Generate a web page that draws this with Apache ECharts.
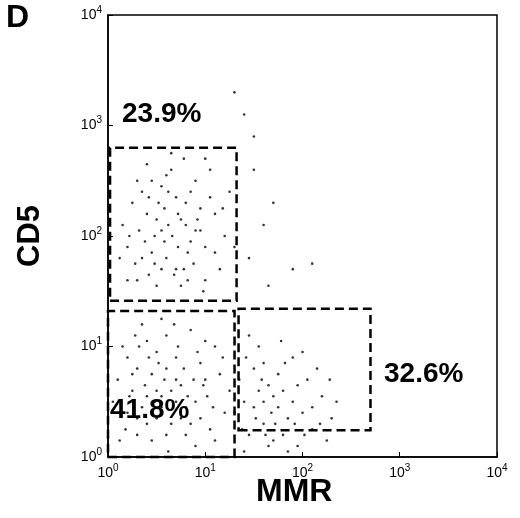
<!DOCTYPE html>
<html>
<head>
<meta charset="utf-8">
<script src="https://cdn.jsdelivr.net/npm/echarts@6/dist/echarts.min.js"></script>
<style>html,body{margin:0;padding:0;background:#fff}#chart{width:520px;height:518px}</style>
</head>
<body>
<div id="chart"></div>
<script>
// dot positions in log10 units
var upperLeft = [[0.62,2.1],[0.45,1.85],[0.8,2.3],[0.3,1.6],[0.95,2.05],[0.55,2.45],[0.7,1.7],[1.1,2.2],[0.4,2.2],[0.85,1.95],[0.2,1.9],[0.65,2.6],[1.0,1.6],[0.5,1.55],[0.75,2.15],[1.2,2.0],[0.35,2.4],[0.9,2.5],[0.6,1.8],[0.15,2.1],[1.05,2.35],[0.48,2.0],[0.72,1.9],[0.88,1.75],[0.28,1.75],[0.58,2.25],[1.15,1.7],[0.42,1.65],[0.78,2.7],[0.66,2.0],[0.95,2.25],[0.52,2.3],[0.32,2.05],[1.25,2.4],[0.82,1.6],[0.6,2.55],[0.38,1.95],[1.0,1.9],[0.7,2.35],[0.25,2.3],[0.9,2.05],[0.55,1.7],[1.1,1.85],[0.45,2.5],[0.68,1.65],[0.8,2.1],[0.2,1.6],[0.62,2.4],[1.05,2.6],[0.35,1.8],[0.98,1.5],[0.5,2.15],[0.75,1.55],[1.3,1.9],[0.4,2.65],[0.85,2.4],[0.58,1.95],[0.12,1.8],[0.92,2.15],[0.3,2.5],[0.72,2.2],[1.18,2.25],[0.48,1.75],[0.65,2.75],[0.82,1.85],[0.55,2.05],[1.0,2.7],[0.22,2.0],[0.78,1.7],[0.42,2.35],
  [1.5,2.6],[1.6,2.1],[1.45,1.8],[1.7,2.3],[1.4,3.1],[1.3,3.3],[1.9,1.7],[2.1,1.75],[1.65,1.55],[1.5,2.9]];
var lowerLeft = [[0.3,0.8],[0.5,0.6],[0.7,0.9],[0.9,0.5],[0.2,0.4],[0.6,1.1],[1.0,0.7],[0.4,0.3],[0.8,0.2],[1.1,1.0],[0.15,1.0],[0.55,0.45],[0.75,0.65],[0.35,1.2],[0.95,0.85],[1.2,0.4],[0.45,0.75],[0.65,0.3],[0.25,0.6],[0.85,1.15],[1.05,0.25],[0.5,0.95],[0.7,0.5],[0.1,0.7],[0.4,0.55],[0.9,0.1],[0.6,0.8],[1.15,0.75],[0.3,0.2],[0.8,0.45],[0.55,1.25],[0.2,0.9],[1.0,1.05],[0.65,0.6],[0.45,0.15],[0.88,0.7],[0.35,0.45],[0.72,1.0],[1.25,0.6],[0.5,0.35],[0.05,0.5],[0.62,0.05],[0.95,0.35],[0.28,1.1],[0.78,0.8],[0.42,0.9],[1.1,0.15],[0.58,0.7],[0.18,0.25],[0.82,0.55],[0.38,0.65],[0.68,1.2],[1.02,0.55],[0.48,0.5],[0.25,0.75],[0.92,0.95],[0.6,0.2],[0.75,0.35],[0.32,1.0],[1.18,0.9],[0.52,0.85],[0.12,0.15],[0.85,0.3],[0.4,1.05],[0.7,0.7],[0.22,0.55],[0.98,0.65],[0.55,0.55],[1.08,0.45],[0.3,0.35]];
var lowerRight = [[1.4,0.5],[1.6,0.3],[1.8,0.6],[2.0,0.4],[1.5,0.8],[1.7,0.15],[1.9,0.9],[2.1,0.25],[1.45,0.2],[1.65,0.65],[2.2,0.55],[1.35,0.7],[1.75,0.45],[1.55,1.0],[1.95,0.1],[2.3,0.35],[1.85,0.35],[1.5,0.45],[2.05,0.7],[1.6,0.85],[1.4,0.05],[1.8,0.2],[2.15,0.8],[1.7,0.55],[1.3,0.4],[1.9,0.5],[2.25,0.15],[1.55,0.6],[1.65,0.1],[2.0,0.95],[1.45,1.1],[1.75,0.75],[1.85,0.05],[2.35,0.5],[1.6,0.5],[1.95,0.65],[1.38,0.25],[2.1,0.45],[1.72,0.3],[1.52,0.35],[1.82,0.85],[2.28,0.7],[1.62,0.2],[1.42,0.9],[2.02,0.2],[1.78,1.05],[1.92,0.3],[1.58,0.7],[2.18,0.3],[1.68,0.4]];
// gates: [xmin, xmax, ymin, ymax]
var gateUpper = [1.05, 21, 26, 630];
var gateLowerLeft = [1, 20, 1, 21];
var gateLowerRight = [22, 500, 1.75, 22];
var gateLabels = ["23.9%", "41.8%", "32.6%"];

var pts = upperLeft.concat(lowerLeft, lowerRight).map(function (p) {
  return [Math.pow(10, p[0]), Math.pow(10, p[1])];
});
function area(g) {
  return [{ coord: [g[0], g[2]] }, { coord: [g[1], g[3]] }];
}
var font = "Liberation Sans";
var tickLabel = {
  color: "#000", fontFamily: font, fontSize: 14, margin: 6,
  formatter: function (v) { return "10{s|" + Math.round(Math.log10(v)) + "}"; },
  rich: { s: { fontSize: 10, verticalAlign: "top", padding: [0, 0, 10, 0], fontFamily: font } }
};
var ax = {
  type: "log", logBase: 10, min: 1, max: 10000,
  axisLine: { lineStyle: { color: "#000", width: 1.5 } },
  axisTick: { inside: true, length: 5, lineStyle: { color: "#000" } },
  minorTick: { show: false },
  splitLine: { show: false },
  axisLabel: tickLabel
};
var chart = echarts.init(document.getElementById("chart"));
chart.setOption({
  animation: false,
  grid: { left: 108, right: 23, top: 15, bottom: 61, show: true, borderColor: "#000", borderWidth: 1.5 },
  xAxis: Object.assign({}, ax),
  yAxis: Object.assign({}, ax),
  graphic: [
    { type: "text", left: 6, top: 2, style: { text: "D", font: "bold 32px " + font, fill: "#000" } },
    { type: "text", left: 256, top: 476, style: { text: "MMR", font: "bold 32px " + font, fill: "#000" } },
    { type: "text", x: 30, y: 236, rotation: Math.PI / 2, style: { text: "CD5", font: "bold 31px " + font, fill: "#000", textAlign: "center", textVerticalAlign: "middle" } },
    { type: "text", left: 122, top: 100, style: { text: gateLabels[0], font: "bold 28px " + font, fill: "#000" } },
    { type: "text", left: 110, top: 396, style: { text: gateLabels[1], font: "bold 28px " + font, fill: "#000" } },
    { type: "text", left: 384, top: 360, style: { text: gateLabels[2], font: "bold 28px " + font, fill: "#000" } }
  ],
  series: [{
    type: "scatter", data: pts, symbolSize: 2.6, itemStyle: { color: "#000" }, silent: true,
    markArea: {
      silent: true,
      itemStyle: { color: "rgba(0,0,0,0)", borderColor: "#000", borderWidth: 2.5, borderType: [9, 5] },
      data: [area(gateUpper), area(gateLowerLeft), area(gateLowerRight)]
    }
  }]
});
</script>
</body>
</html>
